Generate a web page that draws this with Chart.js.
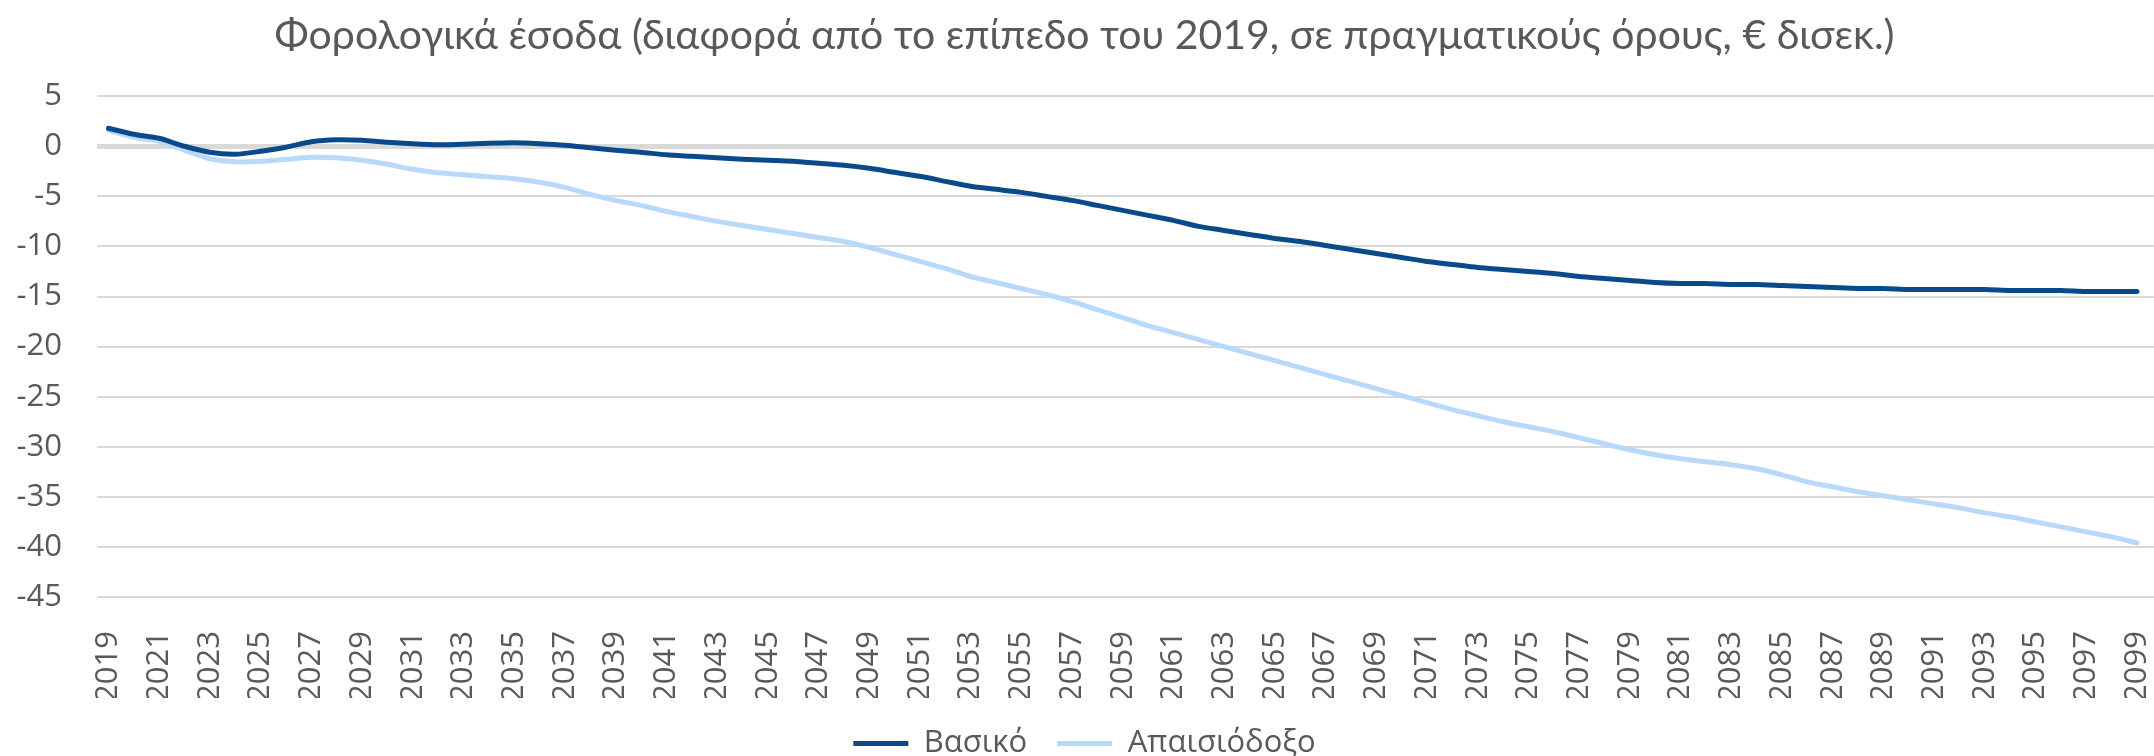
<!DOCTYPE html>
<html>
<head>
<meta charset="utf-8">
<script src="https://cdn.jsdelivr.net/npm/chart.js@4"></script>
<style>
  html, body { margin: 0; padding: 0; background: #fff; }
  #wrap { width: 2154px; height: 756px; position: relative; }
</style>
</head>
<body>
<div id="wrap"><canvas id="tax-chart"></canvas></div>
<script>
"use strict";

// Years on the x axis (2019 - 2099)
var years = [];
for (var y = 2019; y <= 2099; y++) years.push(y);

// x tick labels shown every two years
var yearTicks = [];
for (var t = 2019; t <= 2099; t += 2) yearTicks.push(t);

// Βασικό σενάριο
var baseline = [
    1.8, 1.2, 0.8, 0.0, -0.6, -0.8, -0.5, -0.1, 0.45, 0.65,
    0.6, 0.4, 0.25, 0.15, 0.2, 0.3, 0.35, 0.25, 0.1, -0.15,
    -0.4, -0.6, -0.85, -1.0, -1.15, -1.3, -1.4, -1.5, -1.7, -1.9,
    -2.2, -2.6, -3.0, -3.5, -4.0, -4.3, -4.6, -5.0, -5.4, -5.9,
    -6.4, -6.9, -7.4, -8.0, -8.4, -8.8, -9.2, -9.5, -9.9, -10.3,
    -10.7, -11.1, -11.5, -11.8, -12.1, -12.3, -12.5, -12.7, -13.0, -13.2,
    -13.4, -13.6, -13.7, -13.7, -13.8, -13.8, -13.9, -14.0, -14.1, -14.2,
    -14.2, -14.3, -14.3, -14.3, -14.3, -14.4, -14.4, -14.4, -14.5, -14.5,
    -14.5
];

// Απαισιόδοξο σενάριο
var pessimistic = [
    1.6, 0.9, 0.5, -0.4, -1.25, -1.55, -1.5, -1.3, -1.1, -1.15,
    -1.4, -1.8, -2.3, -2.65, -2.85, -3.05, -3.25, -3.6, -4.1, -4.8,
    -5.4, -5.9, -6.5, -7.0, -7.5, -7.9, -8.3, -8.7, -9.1, -9.5,
    -10.1, -10.8, -11.5, -12.2, -13.0, -13.6, -14.2, -14.8, -15.5, -16.3,
    -17.1, -17.9, -18.6, -19.3, -20.0, -20.7, -21.4, -22.1, -22.8, -23.5,
    -24.2, -24.9, -25.6, -26.3, -26.9, -27.5, -28.0, -28.5, -29.1, -29.7,
    -30.3, -30.8, -31.2, -31.5, -31.8, -32.2, -32.8, -33.5, -34.0, -34.5,
    -34.9, -35.3, -35.7, -36.1, -36.6, -37.0, -37.5, -38.0, -38.5, -39.0,
    -39.6
];

function points(values) {
    return years.map(function (yr, i) { return { x: yr, y: values[i] }; });
}

var textColor = '#595959';
var gridColor = '#d9d9d9';
var titleFont = "Lato, 'Open Sans', sans-serif";
var tickFont = "'Open Sans', 'Noto Sans', sans-serif";

new Chart(document.getElementById("tax-chart"), {
    type: 'line',
    data: {
        datasets: [
            {
                label: "Βασικό",
                data: points(baseline),
                borderColor: "#0b4a8a",
                backgroundColor: "#0b4a8a",
                borderWidth: 5,
                borderCapStyle: 'round',
                pointRadius: 0,
                tension: 0.25
            },
            {
                label: "Απαισιόδοξο",
                data: points(pessimistic),
                borderColor: "#b8d9fa",
                backgroundColor: "#b8d9fa",
                borderWidth: 5,
                borderCapStyle: 'round',
                pointRadius: 0,
                tension: 0.25
            }
        ]
    },
    options: {
        responsive: true,
        maintainAspectRatio: false,
        animation: false,
        layout: { padding: { left: 15, right: 0, top: 0, bottom: -13 } },
        plugins: {
            title: {
                display: true,
                text: 'Φορολογικά έσοδα (διαφορά από το επίπεδο του 2019, σε πραγματικούς όρους, € δισεκ.)',
                color: textColor,
                font: { family: titleFont, size: 41, weight: 'normal' },
                padding: { top: 11, bottom: 36 }
            },
            legend: {
                position: 'bottom',
                labels: {
                    color: textColor,
                    font: { family: tickFont, size: 31 },
                    usePointStyle: true,
                    pointStyle: 'line',
                    pointStyleWidth: 55,
                    padding: 30
                }
            },
            tooltip: { enabled: false }
        },
        scales: {
            x: {
                type: 'linear',
                min: 2018.55,
                max: 2099.67,
                grid: { display: false },
                border: { display: false },
                afterBuildTicks: function (axis) {
                    axis.ticks = yearTicks.map(function (v) { return { value: v }; });
                },
                afterFit: function (axis) {
                    axis.paddingLeft = 0;
                    axis.paddingRight = 0;
                    axis.height = 101;
                },
                ticks: {
                    color: textColor,
                    font: { family: tickFont, size: 31 },
                    minRotation: 90,
                    maxRotation: 90,
                    autoSkip: false,
                    padding: 26,
                    callback: function (v) { return String(v); }
                }
            },
            y: {
                min: -45,
                max: 5,
                border: { display: false },
                afterFit: function (axis) {
                    axis.width = 82;
                },
                grid: {
                    drawTicks: false,
                    color: gridColor,
                    lineWidth: function (ctx) { return ctx.tick && ctx.tick.value === 0 ? 5 : 2; }
                },
                ticks: {
                    stepSize: 5,
                    color: textColor,
                    font: { family: tickFont, size: 31 },
                    padding: 35
                }
            }
        }
    }
});
</script>
</body>
</html>
